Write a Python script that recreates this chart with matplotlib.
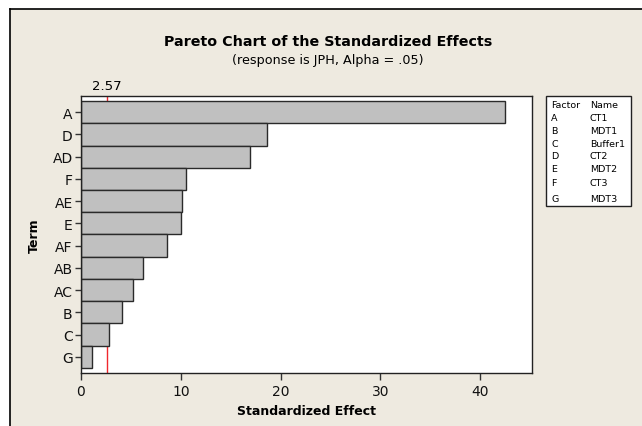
import matplotlib
matplotlib.use("Agg")
import matplotlib.pyplot as plt
from matplotlib.patches import Rectangle
from matplotlib.lines import Line2D

terms = ["A", "D", "AD", "F", "AE", "E", "AF", "AB", "AC", "B", "C", "G"]
effects = [42.5, 18.65, 16.9, 10.53, 10.09, 9.99, 8.65, 6.25, 5.24, 4.14, 2.81, 1.13]
critical = 2.57
factors = ["A", "B", "C", "D", "E", "F", "G"]
names = ["CT1", "MDT1", "Buffer1", "CT2", "MDT2", "CT3", "MDT3"]
xticks = [0, 10, 20, 30, 40]

W, H = 642, 427
plt.rcParams['font.family'] = ['DejaVu Sans']
fig = plt.figure(figsize=(W / 100, H / 100), dpi=100)
fig.patch.set_facecolor("white")

beige = "#EEEAE0"
# background panel
fig.patches.append(Rectangle((10 / W, 0), 1, 1 - 10 / H, transform=fig.transFigure,
                             facecolor=beige, edgecolor="none", zorder=-10))
fig.lines.append(Line2D([10 / W, 1], [1 - 10 / H, 1 - 10 / H], transform=fig.transFigure,
                        color="black", lw=1.2))
fig.lines.append(Line2D([10 / W, 10 / W], [0, 1 - 10 / H], transform=fig.transFigure,
                        color="black", lw=1.2))

def px(x0, y0, x1, y1):
    return [x0 / W, 1 - y1 / H, (x1 - x0) / W, (y1 - y0) / H]

ax = fig.add_axes(px(81, 97, 532, 374))
ax.set_facecolor("white")
ypos = list(range(len(terms)))
ax.axvline(critical, color="#F0282D", lw=1.0, zorder=1)
ax.barh(ypos, effects, height=1.0, color="#C0C0C0", edgecolor="#2a2a2a", lw=1.0, zorder=2)
ax.set_xlim(0, 45.2)
ax.set_ylim(len(terms) - 0.5 + 0.23, -0.5 - 0.23)
ax.set_yticks(ypos)
ax.set_yticklabels(terms, fontsize=10)
ax.set_xticks(xticks)
ax.set_xticklabels([str(t) for t in xticks], fontsize=10)
ax.tick_params(axis="x", length=5, width=1, pad=3, color="#333333", labelcolor="#111111")
ax.tick_params(axis="y", length=4, width=1, pad=2, color="#333333", labelcolor="#111111")
for s in ax.spines.values():
    s.set_linewidth(1.0)
    s.set_color("#222222")
ax.set_xlabel("Standardized Effect", fontsize=9, fontweight="bold", labelpad=4)
ax.set_ylabel("Term", fontsize=9, fontweight="bold", labelpad=8)

ax.text(critical, 1.015, "2.57", transform=ax.get_xaxis_transform(), ha="center",
        va="bottom", fontsize=9.5)

fig.text(328 / W, 1 - 42 / H, "Pareto Chart of the Standardized Effects", ha="center",
         va="center", fontsize=10.3, fontweight="bold")
fig.text(328 / W, 1 - 61 / H, "(response is JPH, Alpha = .05)", ha="center",
         va="center", fontsize=9.2)

# factor legend
fig.patches.append(Rectangle((546 / W, 1 - 207 / H), (631 - 546) / W, (207 - 97) / H,
                             transform=fig.transFigure, facecolor="white",
                             edgecolor="#222222", lw=1.0))
rows_y = [106, 118.5, 131.5, 144.5, 157, 170, 183, 199]
fs = 6.8
fig.text(551 / W, 1 - rows_y[0] / H, "Factor", fontsize=fs, va="center")
fig.text(590 / W, 1 - rows_y[0] / H, "Name", fontsize=fs, va="center")
for f, n, y in zip(factors, names, rows_y[1:]):
    fig.text(551 / W, 1 - y / H, f, fontsize=fs, va="center")
    fig.text(590 / W, 1 - y / H, n, fontsize=fs, va="center")

fig.savefig("out.png", dpi=100, facecolor=fig.get_facecolor())
